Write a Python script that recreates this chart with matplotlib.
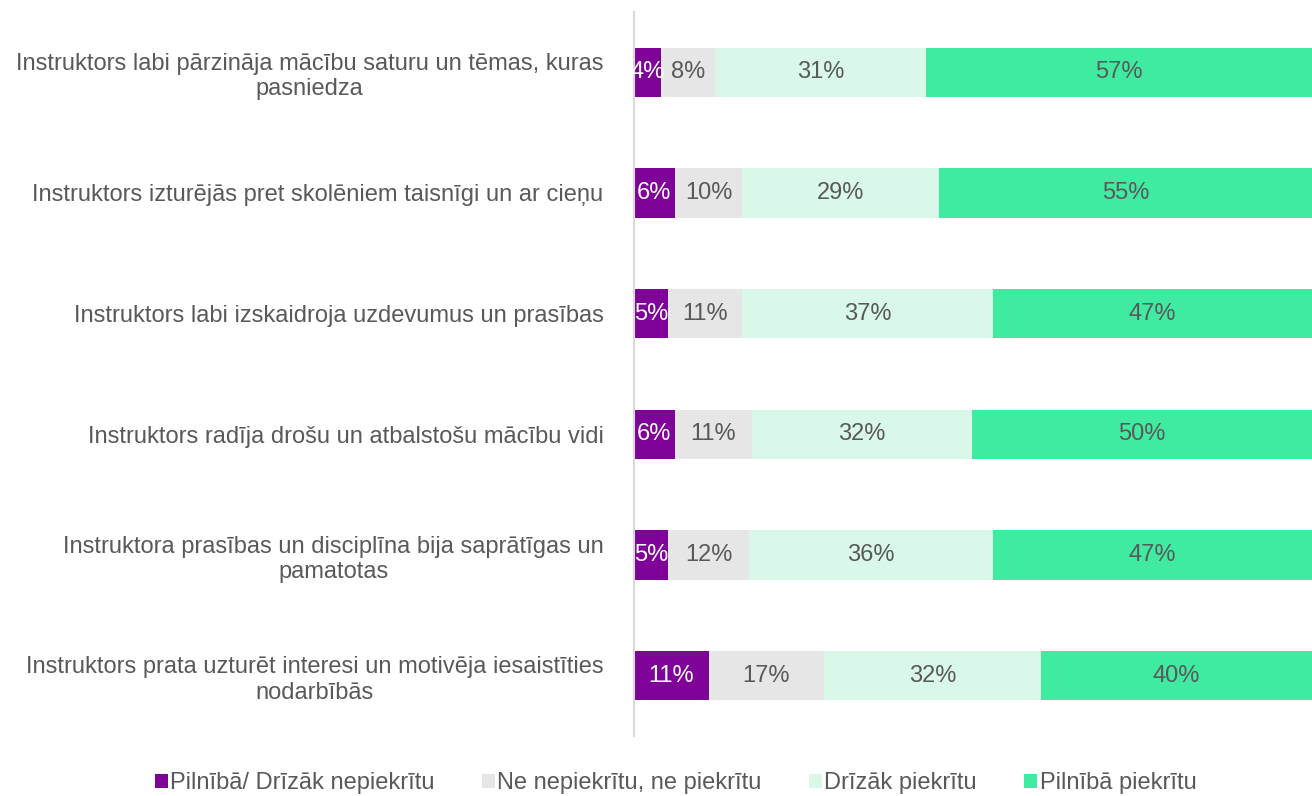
import numpy as np
import matplotlib.pyplot as plt

plt.rcParams['font.family'] = ['Liberation Sans', 'DejaVu Sans']

kategorijas = [
    'Instruktors labi pārzināja mācību saturu un tēmas, kuras\npasniedza',
    'Instruktors izturējās pret skolēniem taisnīgi un ar cieņu',
    'Instruktors labi izskaidroja uzdevumus un prasības',
    'Instruktors radīja drošu un atbalstošu mācību vidi',
    'Instruktora prasības un disciplīna bija saprātīgas un\npamatotas',
    'Instruktors prata uzturēt interesi un motivēja iesaistīties\nnodarbībās',
]
nepiekritu = [4, 6, 5, 6, 5, 11]
neitrali = [8, 10, 11, 11.4, 12, 17]
drizak_piekritu = [31, 29, 37, 32.4, 36, 32]
pilniba_piekritu = [57, 55, 47, 50.2, 47, 40]

serijas = [
    ('Pilnībā/ Drīzāk nepiekrītu', nepiekritu, '#7F0399', 'white'),
    ('Ne nepiekrītu, ne piekrītu', neitrali, '#E6E6E6', '#595959'),
    ('Drīzāk piekrītu', drizak_piekritu, '#D9F8EA', '#595959'),
    ('Pilnībā piekrītu', pilniba_piekritu, '#3FEBA0', '#595959'),
]

fig = plt.figure(figsize=(13.12, 7.96), dpi=100)
ax = fig.add_axes([634 / 1312, 1 - 736 / 796, 1 - 634 / 1312, 724 / 796])

y = np.arange(len(kategorijas))
kreisi = np.zeros(len(kategorijas))
for nosaukums, vertibas, krasa, teksta_krasa in serijas:
    vertibas = np.array(vertibas, dtype=float)
    ax.barh(y, vertibas, left=kreisi, height=0.41, color=krasa, label=nosaukums)
    for i, v in enumerate(vertibas):
        ax.text(kreisi[i] + v / 2, y[i], f'{v:.0f}%', ha='center', va='center',
                fontsize=17, color=teksta_krasa)
    kreisi += vertibas

ax.set_xlim(0, 100)
ax.set_ylim(len(kategorijas) - 0.5, -0.5)
ax.set_yticks(y)
ax.set_yticklabels(kategorijas, fontsize=17, color='#595959', multialignment='center')
ax.tick_params(axis='y', length=0, pad=22)
ax.set_xticks([])
for s in ['top', 'right', 'bottom']:
    ax.spines[s].set_visible(False)
ax.spines['left'].set_color('#D9D9D9')
ax.spines['left'].set_linewidth(1.5)

fig.legend(loc='center', bbox_to_anchor=(0.515, 0.016), ncol=4, frameon=False,
           fontsize=17, labelcolor='#595959', handlelength=0.55, handleheight=0.55,
           handletextpad=0.1, columnspacing=2.0)

fig.savefig('out.png', dpi=100)
